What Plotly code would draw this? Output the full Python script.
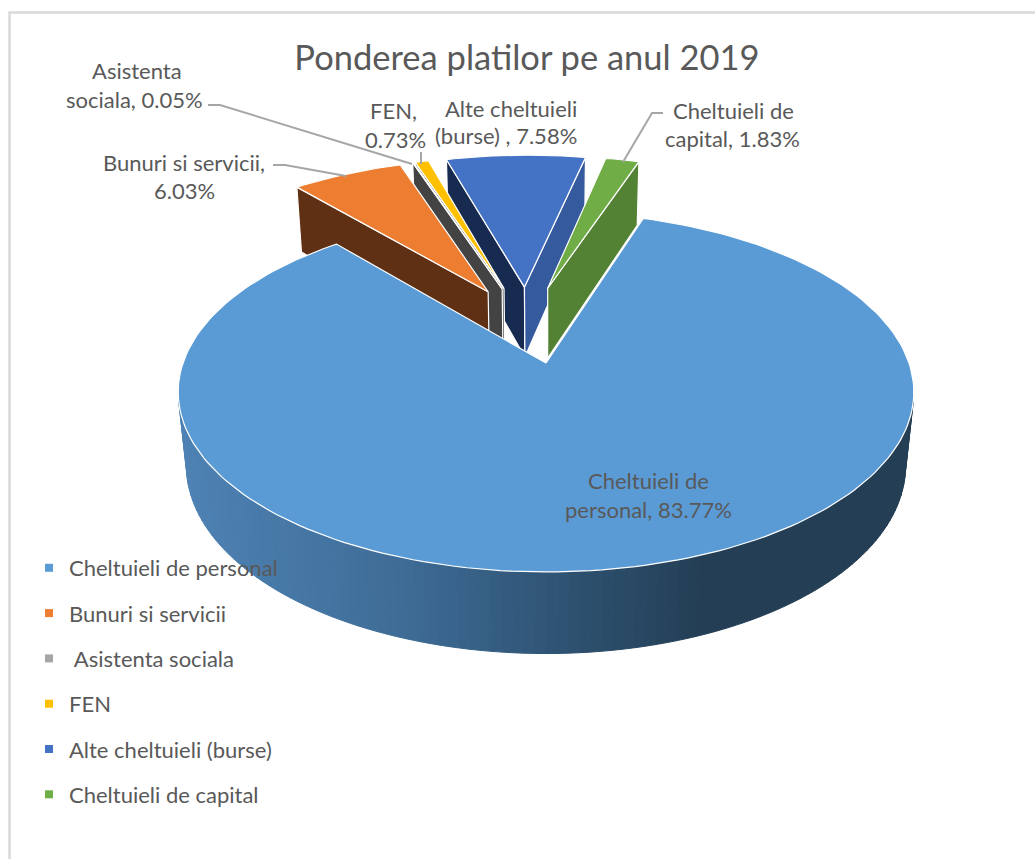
import math
import plotly.graph_objects as go

# ---- data ----
categories = ["Cheltuieli de personal", "Bunuri si servicii", " Asistenta sociala",
              "FEN", "Alte cheltuieli (burse)", "Cheltuieli de capital"]
values = [83.77, 6.03, 0.05, 0.73, 7.58, 1.83]
top_colors = ["#5B9BD5", "#ED7D31", "#A5A5A5", "#FFC000", "#4472C4", "#70AD47"]
left_face = ["#5B9BD5", "#5F3013", "#434343", "#434343", "#172B50", "#548235"]
right_face = ["#5B9BD5", "#5F3013", "#434343", "#7F6000", "#355A9E", "#548235"]
title = "Ponderea platilor pe anul 2019"

# ---- perspective model of the tilted pie ----
CX, CY = 546.0, 363.0
A, B = 363.0, 175.3
K, M, D = 0.161, 0.0225, 75.0
START, EXPLODE, SHIFT = 18.0, 0.235, -0.009


def proj(u, v, z):
    w = 1 + K * v + M * z
    return CX + A * u / w, CY - (B * v - D * z) / w


def area(p):
    return sum(p[i][0] * p[(i + 1) % len(p)][1] - p[(i + 1) % len(p)][0] * p[i][1] for i in range(len(p)))


total = sum(values)
spans = []
a0 = START
for v in values:
    spans.append((a0, a0 + v / total * 360))
    a0 = spans[-1][1]


def direction(deg):
    r = math.radians(deg)
    return math.sin(r), math.cos(r)


mid_main = direction(sum(spans[0]) / 2)
fig = go.Figure()


def poly(points, fill, line="#FFFFFF", width=1.2):
    fig.add_trace(go.Scatter(x=[p[0] for p in points] + [points[0][0]],
                             y=[p[1] for p in points] + [points[0][1]],
                             mode="lines", fill="toself", fillcolor=fill,
                             line=dict(color=line, width=width),
                             hoverinfo="skip", showlegend=False))


def side_color(x):
    stops = [(180, (78, 130, 180)), (400, (62, 108, 150)), (560, (47, 83, 115)),
             (700, (36, 63, 85)), (920, (36, 63, 85))]
    for (x0, c0), (x1, c1) in zip(stops, stops[1:]):
        if x <= x1:
            f = max(0, (x - x0) / (x1 - x0))
            return "rgb(%d,%d,%d)" % tuple(round(a + (b - a) * f) for a, b in zip(c0, c1))
    return "rgb(36,63,85)"


def draw_slice(i):
    t0, t1 = spans[i]
    mid = direction((t0 + t1) / 2)
    ou = EXPLODE * (mid[0] - mid_main[0]) + SHIFT if i else 0.0
    ov = EXPLODE * (mid[1] - mid_main[1]) if i else 0.0
    steps = max(2, int((t1 - t0) / 1.5))
    ts = [t0 + (t1 - t0) * s / steps for s in range(steps + 1)]

    def rim(t, z):
        d = direction(t)
        return proj(ou + d[0], ov + d[1], z)

    apex_t, apex_b = proj(ou, ov, 0), proj(ou, ov, 1)
    # radial faces
    fl = [apex_t, rim(t0, 0), rim(t0, 1), apex_b]
    fr = [rim(t1, 0), apex_t, apex_b, rim(t1, 1)]
    if area(fl) < 0:
        poly(fl, left_face[i])
    if area(fr) < 0:
        poly(fr, right_face[i])
    # outer wall
    for s in range(steps):
        a, b = ts[s], ts[s + 1]
        q = [rim(a, 0), rim(b, 0), rim(b, 1), rim(a, 1)]
        if area(q) < 0:
            c = side_color((q[0][0] + q[1][0]) / 2)
            poly(q, c, line=c, width=1)
    # top face
    poly([apex_t] + [rim(t, 0) for t in ts], top_colors[i])


for idx in [4, 5, 3, 2, 1, 0]:
    draw_slice(idx)

# legend entries
for name, col in zip(categories, top_colors):
    fig.add_trace(go.Scatter(x=[None], y=[None], mode="markers", name=name, legendgroup=name,
                             marker=dict(symbol="square", size=8, color=col)))

TXT = "#595959"
LBL = 22
pct = [f"{v:.2f}%" for v in values]
label_lines = [
    ("Cheltuieli de", 648, 480), (f"personal, {pct[0]}", 648, 509),
    ("Bunuri si servicii,", 184, 162), (pct[1], 184, 190),
    ("Asistenta", 137, 70), (f"sociala, {pct[2]}", 134, 99),
    ("FEN,", 393, 110), (pct[3], 395, 139),
    ("Alte cheltuieli", 511, 108), (f"(burse) , {pct[4]}", 506, 135),
    ("Cheltuieli de", 733, 110), (f"capital, {pct[5]}", 732, 138),
]
anns = [dict(text=t, x=x, y=y, xref="x", yref="y", showarrow=False, xanchor="center",
             yanchor="middle", font=dict(family="Lato", size=LBL, color=TXT))
        for t, x, y in label_lines]

leaders = [[(208, 105), (220, 105), (412, 164)], [(273, 165), (285, 165), (346, 176)],
           [(421, 152), (421, 164)], [(663, 113), (652, 113), (623, 162)]]
shapes = [dict(type="path", xref="x", yref="y",
               path="M " + " L ".join(f"{x} {y}" for x, y in pts),
               line=dict(color="#A6A6A6", width=2)) for pts in leaders]
shapes.append(dict(type="path", xref="x", yref="y", layer="below",
                   path="M 9.5 859 L 9.5 12.5 L 1035 12.5",
                   line=dict(color="#D9D9D9", width=2.5)))

fig.update_layout(
    width=1035, height=859, margin=dict(l=0, r=0, t=0, b=0),
    paper_bgcolor="white", plot_bgcolor="white",
    title=dict(text=title, x=527 / 1035, xanchor="center", y=1 - 58 / 859, yanchor="middle",
               font=dict(family="Lato", size=34.5, color=TXT)),
    xaxis=dict(range=[0, 1035], visible=False, fixedrange=True),
    yaxis=dict(range=[859, 0], visible=False, fixedrange=True),
    legend=dict(x=0.028, y=1 - 547 / 859, xanchor="left", yanchor="top", bgcolor="rgba(0,0,0,0)",
                tracegroupgap=13.7, font=dict(family="Lato", size=22, color=TXT)),
    annotations=anns, shapes=shapes,
)
fig.write_html("out.html", config={"displayModeBar": False},
               post_script="document.body.style.margin='0';document.documentElement.style.overflow='hidden';")
